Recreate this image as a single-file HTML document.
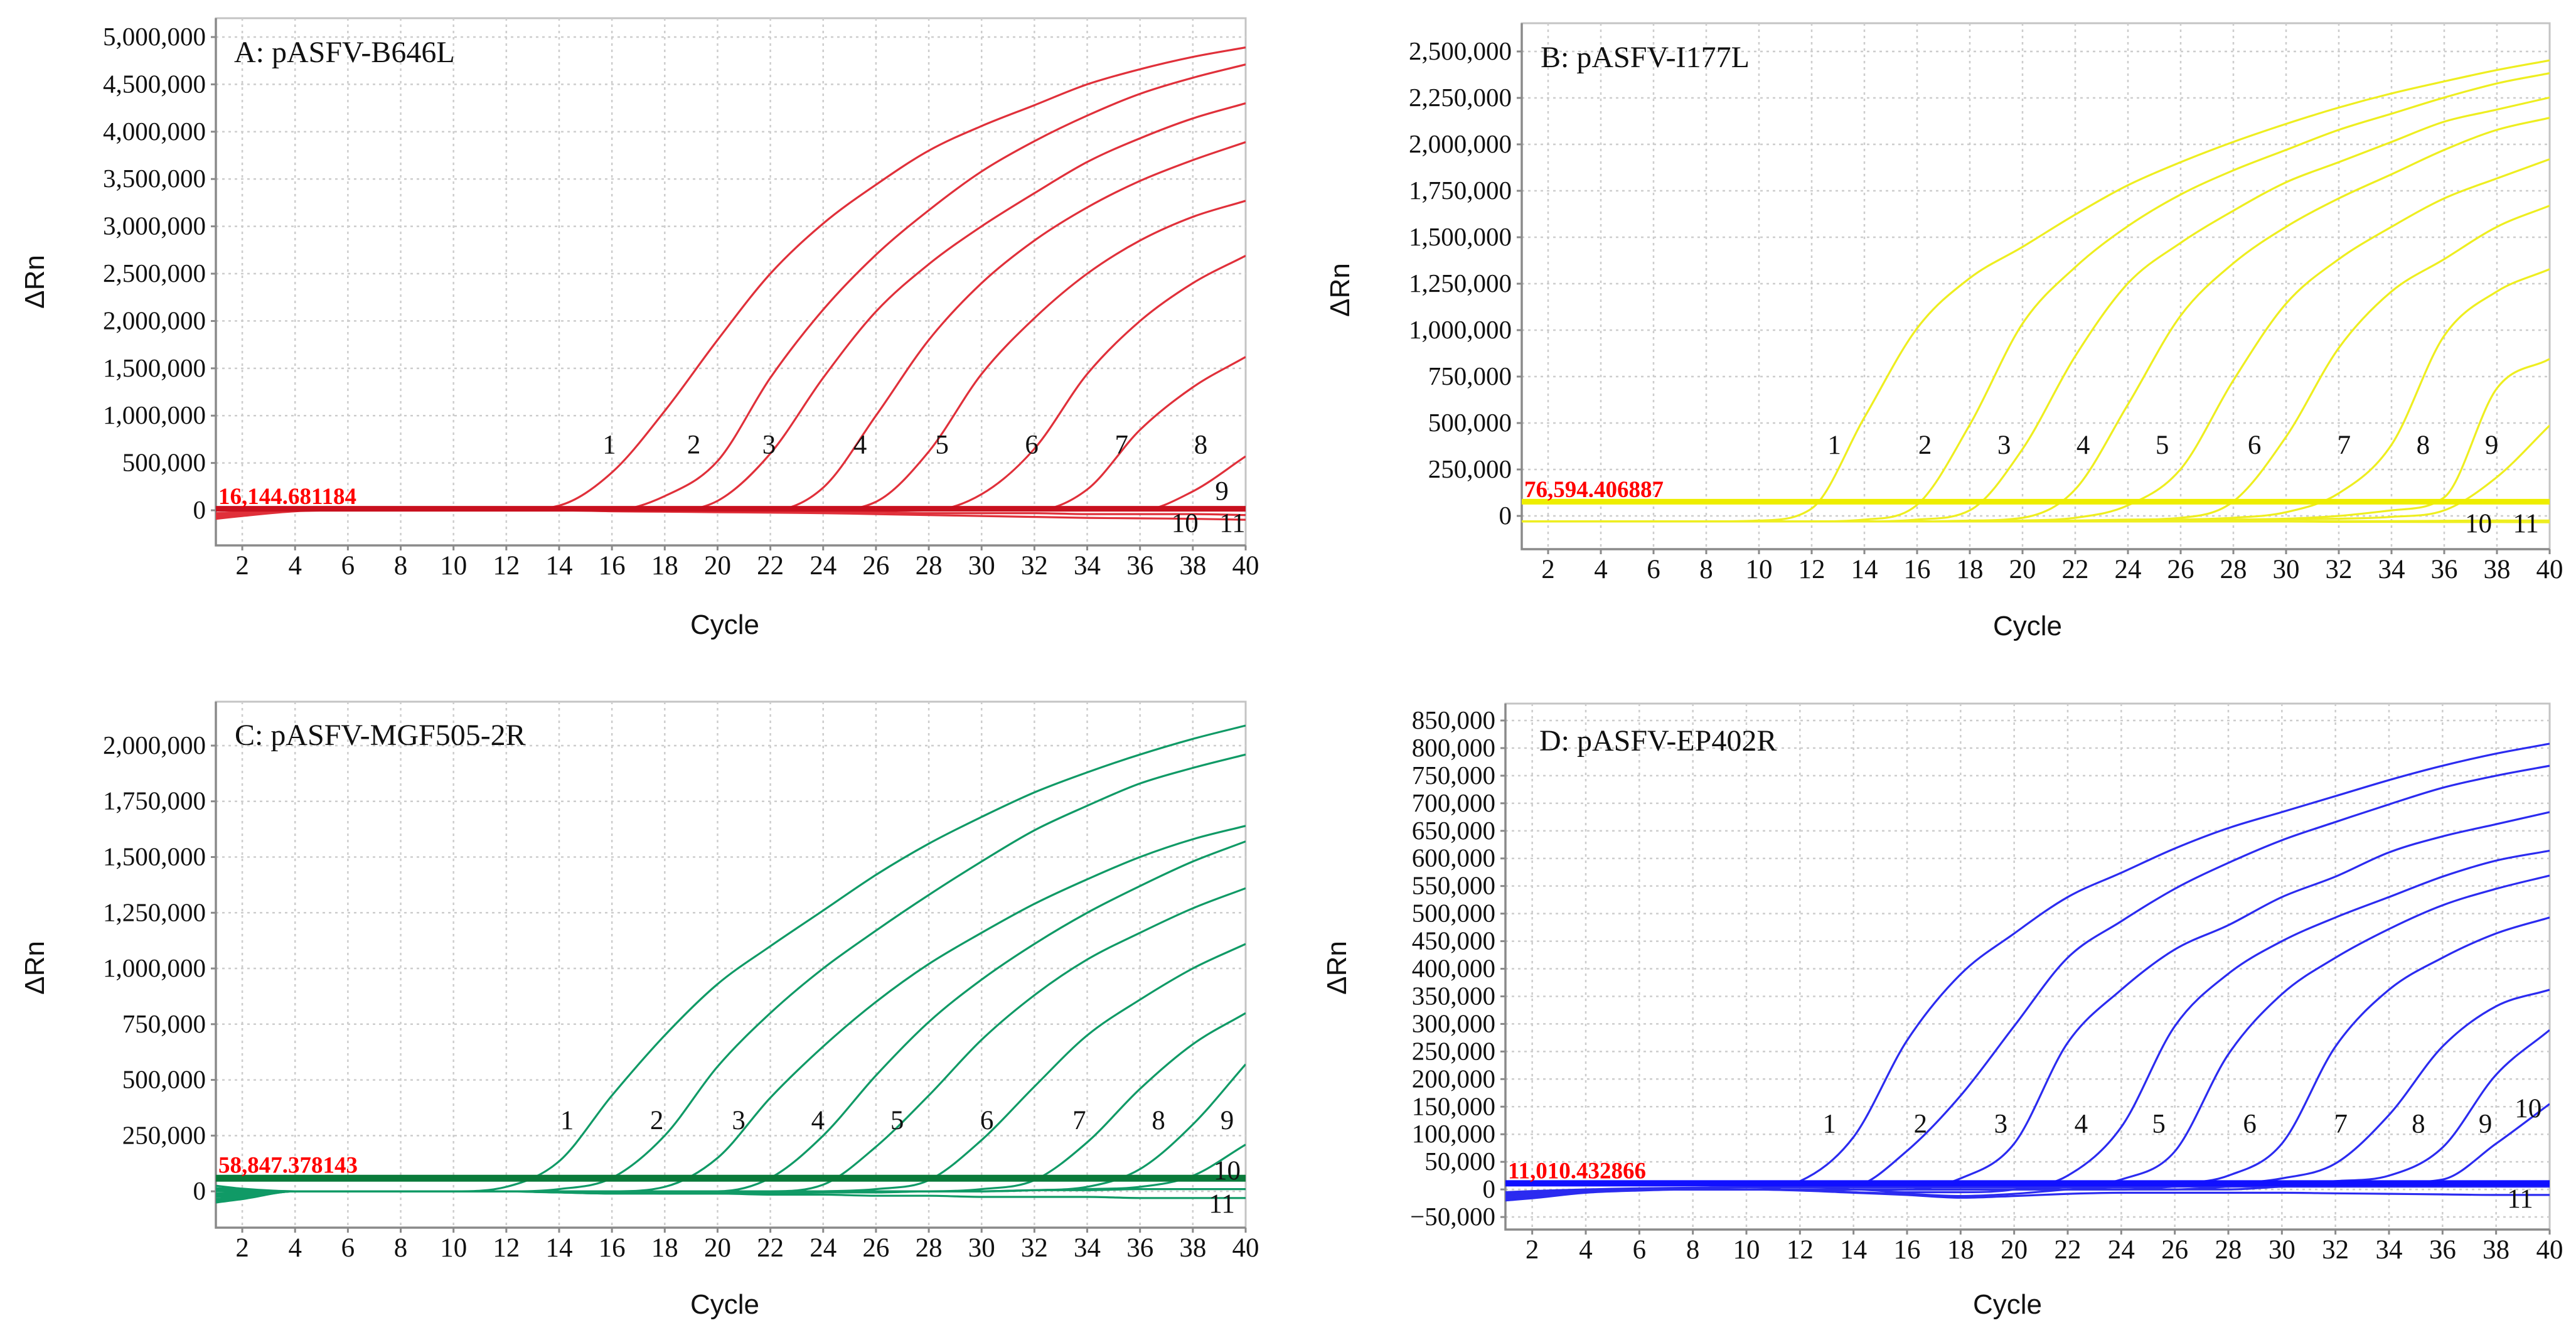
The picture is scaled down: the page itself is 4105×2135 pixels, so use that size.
<!DOCTYPE html>
<html><head><meta charset="utf-8">
<style>
html,body{margin:0;padding:0;background:#fff;}
svg{display:block;}
</style></head>
<body>
<svg id="fig" width="4105" height="2135" viewBox="0 0 4105 2135" xmlns="http://www.w3.org/2000/svg">
<rect x="0" y="0" width="4105" height="2135" fill="#fff"/>
</svg>
<script>
// ---- shared data ----
const cycles = [1,2,4,6,8,10,12,14,16,18,20,22,24,26,28,30,32,34,36,38,40];
const xTicks = [2,4,6,8,10,12,14,16,18,20,22,24,26,28,30,32,34,36,38,40];
const curveNames = ['1','2','3','4','5','6','7','8','9','10','11'];

// ---- Panel A (values in thousands) ----
const aTicks = [0,500,1000,1500,2000,2500,3000,3500,4000,4500,5000];
const aThreshold = 16.144681184;
const aThresholdLabel = '16,144.681184';
const aSeries = [
 [-50,-30,0,0,0,0,0,50,400,1050,1800,2500,3030,3440,3800,4060,4280,4500,4660,4790,4890],
 [-50,-30,0,0,0,0,0,0,0,150,520,1400,2120,2700,3170,3580,3900,4170,4400,4570,4710],
 [-40,-20,0,0,0,0,0,0,0,0,100,600,1400,2100,2600,3000,3350,3680,3930,4140,4300],
 [-40,-20,0,0,0,0,0,0,0,0,0,0,240,1000,1800,2400,2850,3200,3480,3700,3890],
 [-30,-20,0,0,0,0,0,0,0,0,0,0,0,90,620,1440,2030,2500,2850,3100,3270],
 [-30,-20,0,0,0,0,0,0,0,0,0,0,0,0,0,170,650,1440,2000,2400,2690],
 [-60,-30,0,0,0,0,0,0,0,0,0,0,0,0,0,0,0,220,850,1300,1620],
 [-60,-30,0,0,0,0,0,0,0,0,0,0,0,0,0,0,0,0,0,200,570],
 [-70,-40,0,0,0,0,0,0,0,5,5,5,5,5,5,5,5,10,10,10,10],
 [-80,-50,-5,0,0,0,0,0,-5,-10,-10,-10,-20,-20,-30,-30,-30,-40,-40,-40,-50],
 [-90,-60,-10,0,0,0,0,0,-10,-15,-20,-25,-30,-40,-50,-60,-70,-80,-85,-90,-100]
];
const aLabelX = [15.9,19.1,21.95,25.4,28.5,31.9,35.3,38.3,39.1,37.7,39.5];
const aLabelY = [700,700,700,700,700,700,700,700,210,-130,-130];

// ---- Panel B ----
const bTicks = [0,250,500,750,1000,1250,1500,1750,2000,2250,2500];
const bThreshold = 76.594406887;
const bThresholdLabel = '76,594.406887';
const bSeries = [
 [-30,-30,-30,-30,-30,-25,40,530,1010,1280,1448,1622,1780,1904,2013,2110,2198,2274,2339,2400,2452],
 [-30,-30,-30,-30,-30,-30,-30,-20,60,491,1035,1339,1560,1730,1860,1970,2078,2165,2252,2328,2383],
 [-30,-30,-30,-30,-30,-30,-30,-30,-20,30,360,860,1252,1470,1643,1796,1904,2013,2122,2187,2252],
 [-30,-30,-30,-30,-30,-30,-30,-30,-30,-25,-10,143,600,1078,1360,1556,1709,1839,1970,2078,2143],
 [-30,-30,-30,-30,-30,-30,-30,-30,-30,-30,-25,-10,57,252,730,1143,1382,1556,1709,1817,1920],
 [-30,-30,-30,-30,-30,-30,-30,-30,-30,-30,-30,-25,-20,-10,78,426,904,1208,1382,1556,1670],
 [-30,-30,-30,-30,-30,-30,-30,-30,-30,-30,-30,-30,-25,-20,-10,20,122,383,970,1208,1328],
 [-30,-30,-30,-30,-30,-30,-30,-30,-30,-30,-30,-30,-30,-25,-20,-15,0,30,100,687,845],
 [-30,-30,-30,-30,-30,-30,-30,-30,-30,-30,-30,-30,-30,-30,-25,-20,-15,-5,30,209,487],
 [-30,-30,-30,-30,-30,-30,-30,-30,-30,-30,-30,-30,-30,-30,-30,-30,-28,-28,-26,-25,-25],
 [-30,-30,-30,-30,-30,-30,-30,-30,-30,-30,-30,-30,-30,-30,-30,-30,-32,-32,-33,-33,-34]
];
const bLabelX = [12.86,16.3,19.3,22.3,25.3,28.8,32.2,35.2,37.8,37.3,39.1];
const bLabelY = [385,385,385,385,385,385,385,385,385,-37,-37];

// ---- Panel C ----
const cTicks = [0,250,500,750,1000,1250,1500,1750,2000];
const cThreshold = 58.847378143;
const cThresholdLabel = '58,847.378143';
const cSeries = [
 [-50,-35,0,0,0,0,20,135,430,700,930,1100,1260,1420,1560,1680,1790,1880,1960,2030,2090],
 [25,12,0,0,0,0,0,10,60,250,560,800,1000,1170,1330,1480,1620,1730,1830,1900,1960],
 [-40,-28,0,0,0,0,0,0,0,20,150,420,650,850,1020,1160,1290,1400,1500,1580,1640],
 [15,8,0,0,0,0,0,0,0,0,0,60,250,520,760,950,1110,1250,1370,1480,1570],
 [-25,-18,0,0,0,0,0,0,0,0,0,0,30,200,430,680,880,1040,1160,1270,1360],
 [8,4,0,0,0,0,0,-5,-10,-10,-10,-5,0,10,50,230,470,700,860,1000,1110],
 [-18,-10,0,0,0,0,0,-5,-10,-10,-10,-10,-5,0,0,10,50,220,460,660,800],
 [0,0,0,0,0,0,0,0,0,0,0,-5,-5,-5,0,0,5,20,100,300,570],
 [-45,-32,0,0,0,0,0,0,0,0,0,0,0,0,0,0,5,10,20,70,210],
 [-10,-5,0,0,0,0,0,0,0,0,0,0,0,0,0,0,5,5,10,10,10],
 [-35,-22,0,0,0,0,0,-5,-5,-10,-10,-15,-15,-20,-20,-25,-25,-25,-30,-30,-30]
];
const cLabelX = [14.3,17.7,20.8,23.8,26.8,30.2,33.7,36.7,39.3,39.3,39.1];
const cLabelY = [321,321,321,321,321,321,321,321,321,96,-53];

// ---- Panel D ----
const dTicks = [-50,0,50,100,150,200,250,300,350,400,450,500,550,600,650,700,750,800,850];
const dThreshold = 11.010432866;
const dThresholdLabel = '11,010.432866';
const dSeries = [
 [-20,-15,-5,0,0,0,15,95,270,390,464,530,574,618,655,684,713,742,768,790,808],
 [-15,-12,-4,0,0,0,0,5,70,170,296,420,486,545,592,633,666,698,728,750,768],
 [-18,-14,-5,0,0,0,0,0,0,20,83,266,362,435,479,530,567,611,640,662,684],
 [-10,-8,-3,0,0,0,0,0,-5,-5,0,25,113,296,391,450,493,530,567,596,614],
 [-12,-10,-4,0,0,0,0,0,0,0,0,5,18,69,245,354,420,472,515,545,569],
 [-8,-6,-2,0,0,0,0,-5,-8,-12,-8,0,5,10,25,83,259,362,420,464,493],
 [-16,-12,-4,0,0,0,0,0,0,0,0,0,0,5,10,20,47,135,259,332,362],
 [-6,-4,-2,0,0,0,0,0,0,0,0,0,0,0,5,10,15,25,76,208,289],
 [-14,-10,-3,0,0,0,0,0,0,0,0,0,0,0,0,5,10,12,18,83,155],
 [-5,-3,0,2,3,4,4,4,4,4,4,4,4,5,5,5,5,5,5,5,5],
 [-20,-16,-6,-2,0,0,-2,-6,-10,-15,-12,-8,-6,-6,-6,-6,-7,-8,-9,-10,-10]
];
const dLabelX = [13.1,16.5,19.5,22.5,25.4,28.8,32.2,35.1,37.6,39.2,38.9];
const dLabelY = [120,120,120,120,120,120,120,120,120,148,-16];

// ---- rendering ----
const NS = 'http://www.w3.org/2000/svg';
const svg = document.getElementById('fig');
function mk(tag, attrs, parent){
  const e = document.createElementNS(NS, tag);
  for (const k in attrs) e.setAttribute(k, attrs[k]);
  (parent||svg).appendChild(e);
  return e;
}
function fmt(v){
  const n = Math.round(v*1000);
  const s = Math.abs(n).toString().replace(/\B(?=(\d{3})+(?!\d))/g, ',');
  return (n<0?'\u2212':'') + s;
}
function monoPath(pts){
  const n = pts.length;
  if (n < 2) return '';
  const dx=[],dy=[],m=[];
  for (let i=0;i<n-1;i++){dx.push(pts[i+1][0]-pts[i][0]); dy.push(pts[i+1][1]-pts[i][1]); m.push(dy[i]/dx[i]);}
  const t=[m[0]];
  for (let i=1;i<n-1;i++){ t.push(m[i-1]*m[i]<=0?0:(m[i-1]+m[i])/2); }
  t.push(m[n-2]);
  for (let i=0;i<n-1;i++){
    if (m[i]===0){t[i]=0;t[i+1]=0;continue;}
    const a=t[i]/m[i], b=t[i+1]/m[i], s=a*a+b*b;
    if (s>9){const k=3/Math.sqrt(s); t[i]=k*a*m[i]; t[i+1]=k*b*m[i];}
  }
  let d='M'+pts[0][0].toFixed(1)+','+pts[0][1].toFixed(1);
  for (let i=0;i<n-1;i++){
    const h=dx[i]/3;
    d+=' C'+(pts[i][0]+h).toFixed(1)+','+(pts[i][1]+t[i]*h).toFixed(1)+' '+
      (pts[i+1][0]-h).toFixed(1)+','+(pts[i+1][1]-t[i+1]*h).toFixed(1)+' '+
      pts[i+1][0].toFixed(1)+','+pts[i+1][1].toFixed(1);
  }
  return d;
}

function panel(cfg){
  const g = mk('g', {});
  
  
  const L=cfg.l, R=cfg.r, T=cfg.t, B=cfg.b;
  const X = c => L + (c-1)/(39)*(R-L);
  const Y = v => B - (v-cfg.ymin)/(cfg.ymax-cfg.ymin)*(B-T);

  const bg = mk('rect',{x:L,y:T,width:R-L,height:B-T,fill:'#fff',stroke:'#c4c4c4','stroke-width':3},g);
  
  

  const grid = mk('g',{stroke:'#cdcdcd','stroke-width':2.5,'stroke-dasharray':'4 6'},g);
  
  
  xTicks.forEach(c=>{ if(c<40) mk('line',{x1:X(c),x2:X(c),y1:T,y2:B},grid); });
  cfg.ticks.forEach(v=>{ mk('line',{x1:L,x2:R,y1:Y(v),y2:Y(v)},grid); });

  const ax = mk('path',{d:`M${L},${T} L${L},${B} L${R},${B}`,fill:'none',stroke:'#8a8a8a','stroke-width':3.5},g);
  
  

  const yt = mk('g',{'font-family':'"Liberation Serif", serif','font-size':41,fill:'#111','text-anchor':'end'},g);
  
  
  cfg.ticks.forEach(v=>{
    mk('line',{x1:L-8,x2:L,y1:Y(v),y2:Y(v),stroke:'#8a8a8a','stroke-width':3},g);
    const t = mk('text',{x:L-16,y:Y(v)+13},yt);
    t.textContent = fmt(v);
  });
  const xt = mk('g',{'font-family':'"Liberation Serif", serif','font-size':43,fill:'#111','text-anchor':'middle'},g);
  
  
  xTicks.forEach(c=>{
    mk('line',{x1:X(c),x2:X(c),y1:B,y2:B+8,stroke:'#8a8a8a','stroke-width':3},g);
    const t = mk('text',{x:X(c),y:B+46},xt);
    t.textContent = c;
  });

  const yl = mk('text',{x:0,y:0,'font-family':'"Liberation Sans", sans-serif','font-size':44,fill:'#111','text-anchor':'middle',
    transform:`translate(${cfg.ylx},${cfg.yly}) rotate(-90)`},g);
  yl.textContent = '\u0394Rn';
  
  
  const xl = mk('text',{x:cfg.xlx,y:cfg.xly,'font-family':'"Liberation Sans", sans-serif','font-size':44,fill:'#111','text-anchor':'middle'},g);
  xl.textContent = 'Cycle';
  
  

  const tt = mk('text',{x:cfg.tx,y:cfg.ty,'font-family':'"Liberation Serif", serif','font-size':48,fill:'#111'},g);
  tt.textContent = cfg.title;
  
  

  const clip = 'clip-'+cfg.name;
  const cp = mk('clipPath',{id:clip},g);
  mk('rect',{x:L,y:T,width:R-L,height:B-T},cp);
  const cg = mk('g',{'clip-path':`url(#${clip})`},g);
  cfg.series.forEach((vals,i)=>{
    const pts = cycles.map((c,j)=>[X(c),Y(vals[j])]);
    const p = mk('path',{d:monoPath(pts),fill:'none',stroke:cfg.color,'stroke-width':3.2},cg);
    
    
  });
  const th = mk('line',{x1:L,x2:R,y1:Y(cfg.thr),y2:Y(cfg.thr),stroke:cfg.thrColor,'stroke-width':cfg.thrW},cg);
  
  
  const thl = mk('text',{x:L+4,y:Y(cfg.thr)-cfg.thrW/2-3,'font-family':'"Liberation Serif", serif','font-size':37,'font-weight':'bold',fill:'#ff0000'},g);
  thl.textContent = cfg.thrLabel;
  
  

  const lg = mk('g',{'font-family':'"Liberation Serif", serif','font-size':43,fill:'#111','text-anchor':'middle'},g);
  
  
  cfg.lx.forEach((c,i)=>{
    const t = mk('text',{x:X(c),y:Y(cfg.ly[i])+15},lg);
    t.textContent = curveNames[i];
  });
}

panel({name:'panel-a-b646l',l:344,r:1985,t:29,b:869,ymin:-371,ymax:5199,ticks:aTicks,series:aSeries,
  color:'#e0303a',thr:aThreshold,thrColor:'#c8101e',thrW:9,thrLabel:aThresholdLabel,lx:aLabelX,ly:aLabelY,
  title:'A: pASFV-B646L',tx:373,ty:99,ylx:70,yly:449,xlx:1155,xly:1010});
panel({name:'panel-b-i177l',l:2425,r:4063,t:37,b:875,ymin:-179,ymax:2652,ticks:bTicks,series:bSeries,
  color:'#eeee20',thr:bThreshold,thrColor:'#eeee00',thrW:9,thrLabel:bThresholdLabel,lx:bLabelX,ly:bLabelY,
  title:'B: pASFV-I177L',tx:2455,ty:107,ylx:2150,yly:462,xlx:3231,xly:1012});
panel({name:'panel-c-mgf505-2r',l:344,r:1985,t:1118,b:1956,ymin:-163,ymax:2197,ticks:cTicks,series:cSeries,
  color:'#109a66',thr:cThreshold,thrColor:'#0a7a3a',thrW:11,thrLabel:cThresholdLabel,lx:cLabelX,ly:cLabelY,
  title:'C: pASFV-MGF505-2R',tx:374,ty:1187,ylx:70,yly:1542,xlx:1155,xly:2093});
panel({name:'panel-d-ep402r',l:2399,r:4063,t:1121,b:1959,ymin:-72.7,ymax:880.7,ticks:dTicks,series:dSeries,
  color:'#2b2bf0',thr:dThreshold,thrColor:'#1010ff',thrW:10,thrLabel:dThresholdLabel,lx:dLabelX,ly:dLabelY,
  title:'D: pASFV-EP402R',tx:2453,ty:1196,ylx:2145,yly:1542,xlx:3199,xly:2093});
</script>
</body></html>
